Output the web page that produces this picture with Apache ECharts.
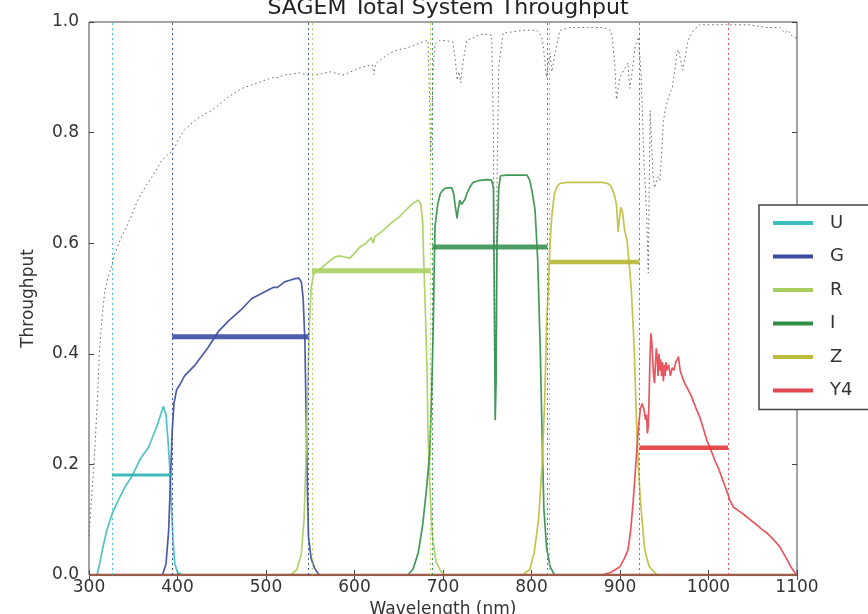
<!DOCTYPE html>
<html><head><meta charset="utf-8">
<script src="https://cdn.jsdelivr.net/npm/echarts@6/dist/echarts.min.js"></script>
<style>html,body{margin:0;padding:0;background:#fff}#c{width:868px;height:614px}</style>
</head><body><div id="c"></div>
<script>
// ---- data ----
const filterNames = ['U', 'G', 'R', 'I', 'Z', 'Y4'];
const xTickValues = [300, 400, 500, 600, 700, 800, 900, 1000, 1100];
const yTickValues = [0.0, 0.2, 0.4, 0.6, 0.8, 1.0];

const curveU = [[300,0],[309,0],[312,0.02],[315,0.045],[320,0.08],[326,0.11],[333,0.135],[341,0.16],[349,0.18],[358,0.21],[367,0.23],[372,0.25],[377,0.27],[381,0.29],[384,0.305],[387,0.29],[389,0.25],[391,0.2],[393,0.13],[395,0.06],[397,0.02],[400,0.005],[405,0],[1100,0]];

const curveG = [[300,0],[383,0],[387,0.02],[390,0.08],[392,0.17],[394,0.26],[396,0.31],[399,0.335],[403,0.345],[408,0.36],[414,0.37],[420,0.38],[427,0.395],[434,0.41],[440,0.425],[446,0.44],[452,0.45],[458,0.46],[465,0.47],[472,0.48],[478,0.49],[484,0.5],[490,0.505],[496,0.51],[502,0.515],[508,0.52],[513,0.52],[517,0.525],[521,0.53],[527,0.533],[533,0.536],[537,0.537],[540,0.53],[542,0.5],[544,0.42],[545,0.32],[546,0.23],[547,0.14],[548,0.07],[551,0.03],[555,0.012],[560,0],[1100,0]];

const curveR = [[300,0],[528,0],[535,0.01],[540,0.04],[543,0.1],[545,0.2],[547,0.33],[549,0.45],[551,0.52],[554,0.545],[558,0.55],[564,0.557],[572,0.568],[578,0.575],[583,0.577],[589,0.575],[595,0.573],[600,0.582],[606,0.593],[613,0.6],[619,0.61],[621,0.6],[623,0.612],[630,0.62],[637,0.63],[644,0.64],[651,0.648],[658,0.66],[666,0.672],[672,0.678],[675,0.67],[677,0.64],[678,0.58],[680,0.48],[682,0.37],[683,0.26],[685,0.16],[688,0.07],[692,0.025],[697,0.008],[702,0],[1100,0]];

const curveI = [[300,0],[660,0],[666,0.01],[672,0.04],[677,0.09],[681,0.15],[685,0.22],[687,0.32],[689,0.45],[690,0.55],[691,0.63],[694,0.67],[697,0.69],[701,0.698],[705,0.7],[710,0.7],[712,0.69],[714,0.665],[716,0.645],[717,0.66],[719,0.678],[721,0.67],[723,0.672],[725,0.68],[727,0.69],[731,0.703],[734,0.71],[740,0.713],[750,0.715],[755,0.714],[757,0.7],[758,0.5],[759,0.28],[760,0.35],[761,0.6],[763,0.7],[765,0.722],[772,0.723],[779,0.723],[787,0.723],[795,0.723],[798,0.714],[801,0.69],[804,0.66],[807,0.57],[810,0.4],[812,0.25],[814,0.12],[817,0.05],[821,0.015],[826,0],[1100,0]];

const curveZ = [[300,0],[790,0],[798,0.01],[803,0.04],[808,0.1],[812,0.2],[815,0.32],[817,0.45],[819,0.52],[821,0.6],[823,0.65],[826,0.69],[829,0.703],[832,0.708],[840,0.71],[850,0.71],[860,0.71],[870,0.71],[880,0.71],[886,0.708],[889,0.705],[892,0.695],[894,0.685],[896,0.67],[897,0.645],[898,0.62],[899,0.64],[901,0.665],[903,0.655],[905,0.625],[908,0.605],[911,0.55],[913,0.51],[916,0.41],[919,0.26],[921,0.19],[923,0.136],[926,0.08],[928,0.045],[933,0.015],[942,0],[1100,0]];

const curveY4 = [[300,0],[880,0],[890,0.005],[900,0.015],[905,0.03],[909,0.045],[912,0.08],[915,0.135],[917,0.18],[919,0.226],[921,0.27],[923,0.3],[925,0.31],[927,0.3],[929,0.28],[930,0.29],[931,0.256],[932,0.27],[933,0.33],[934,0.4],[935,0.437],[936,0.42],[937,0.39],[938,0.36],[939,0.347],[940,0.38],[941,0.41],[942,0.395],[943,0.36],[944,0.4],[945,0.37],[946,0.39],[947,0.36],[948,0.385],[949,0.35],[950,0.38],[951,0.36],[952,0.385],[953,0.37],[955,0.38],[957,0.36],[959,0.375],[961,0.37],[963,0.385],[965,0.39],[966,0.395],[968,0.37],[970,0.36],[973,0.347],[977,0.335],[981,0.322],[985,0.305],[990,0.286],[994,0.266],[998,0.244],[1003,0.225],[1007,0.208],[1012,0.19],[1016,0.172],[1020,0.155],[1024,0.136],[1028,0.123],[1035,0.115],[1041,0.108],[1047,0.1],[1055,0.09],[1060,0.083],[1066,0.076],[1073,0.065],[1081,0.05],[1088,0.03],[1093,0.015],[1098,0.003],[1100,0]];

const atmosphere = [[300,0.07],[303,0.14],[306,0.21],[309,0.3],[312,0.41],[315,0.47],[318,0.515],[321,0.535],[324,0.55],[329,0.58],[335,0.605],[341,0.625],[348,0.65],[355,0.678],[363,0.7],[371,0.72],[377,0.735],[382,0.75],[389,0.76],[393,0.765],[397,0.774],[402,0.79],[408,0.805],[415,0.815],[423,0.826],[431,0.834],[439,0.84],[448,0.852],[457,0.864],[465,0.872],[473,0.88],[482,0.885],[491,0.89],[499,0.895],[507,0.899],[514,0.9],[521,0.904],[530,0.906],[538,0.908],[545,0.905],[553,0.904],[562,0.906],[572,0.91],[580,0.907],[587,0.904],[596,0.91],[606,0.917],[615,0.921],[620,0.923],[622,0.905],[624,0.925],[630,0.932],[640,0.944],[650,0.95],[659,0.953],[668,0.958],[677,0.964],[683,0.967],[685,0.85],[686,0.755],[687,0.8],[689,0.92],[691,0.96],[697,0.967],[704,0.966],[711,0.964],[714,0.93],[716,0.895],[718,0.91],[720,0.89],[722,0.92],[725,0.95],[727,0.967],[735,0.972],[742,0.978],[750,0.977],[755,0.976],[757,0.8],[758,0.5],[759,0.38],[760,0.45],[761,0.7],[763,0.92],[768,0.98],[779,0.982],[790,0.985],[806,0.985],[811,0.975],[813,0.96],[815,0.93],[817,0.9],[819,0.925],[821,0.944],[823,0.91],[825,0.93],[828,0.955],[832,0.985],[843,0.99],[863,0.99],[881,0.99],[889,0.985],[891,0.973],[894,0.926],[896,0.86],[898,0.88],[900,0.9],[905,0.915],[909,0.926],[911,0.88],[913,0.9],[917,0.955],[921,0.973],[924,0.9],[927,0.75],[930,0.655],[931,0.6],[932,0.546],[933,0.7],[934,0.84],[936,0.77],[937,0.73],[939,0.7],[941,0.7],[943,0.72],[945,0.714],[947,0.76],[949,0.82],[951,0.84],[953,0.853],[956,0.87],[959,0.88],[962,0.913],[964,0.94],[966,0.95],[968,0.935],[971,0.913],[974,0.94],[977,0.967],[983,0.985],[990,0.995],[1009,0.995],[1028,0.995],[1047,0.995],[1066,0.99],[1081,0.99],[1086,0.98],[1090,0.985],[1094,0.975],[1096,0.973],[1100,0.97]];

const bandLow = [326, 394, 552, 688, 820, 922];
const bandHigh = [394, 548, 686, 818, 922, 1022];
const meanThroughput = [0.181, 0.431, 0.550, 0.593, 0.566, 0.230];
const baselineX = [300, 1100];

// ---- styling ----
const curves = [curveU, curveG, curveR, curveI, curveZ, curveY4];
const curveColors = ['#3dbdbd', '#3a4a9e', '#a6cf5c', '#2f8f46', '#bcbc3a', '#e5454f'];
const barColors = ['#2db0b2', '#3b4c9f', '#a9d060', '#3a9152', '#b6b634', '#e23838'];
const barWidths = [3, 5, 5, 5, 4.5, 4.5];
const FONT = 'DejaVu Sans';

const series = [];
series.push({
  name: 'atmosphere', type: 'line', data: atmosphere, showSymbol: false, silent: true,
  lineStyle: { color: '#666', width: 1, type: [1.5, 3] }, z: 1
});
filterNames.forEach((n, i) => {
  series.push({
    name: n, type: 'line', data: curves[i], showSymbol: false, silent: true,
    itemStyle: { color: curveColors[i] },
    lineStyle: { color: curveColors[i], width: 1.7, opacity: 0.9 }, z: 2
  });
  series.push({
    name: n + ' band', type: 'line', showSymbol: false, silent: true,
    data: [[bandLow[i], meanThroughput[i]], [bandHigh[i], meanThroughput[i]]],
    lineStyle: { color: barColors[i], width: barWidths[i], opacity: 0.9 }, z: 3,
    markLine: {
      symbol: 'none', silent: true, animation: false,
      label: { show: false },
      lineStyle: { color: curveColors[i], width: 1, type: [2, 3], opacity: 0.9 },
      data: [{ xAxis: bandLow[i] }, { xAxis: bandHigh[i] }]
    }
  });
});
series.push({
  name: 'baseline', type: 'line', showSymbol: false, silent: true,
  data: baselineX.map(x => [x, 0]),
  lineStyle: { color: '#9c5a48', width: 2.5 }, z: 4
});

const chart = echarts.init(document.getElementById('c'), null, { renderer: 'canvas' });
chart.setOption({
  animation: false,
  backgroundColor: '#fff',
  title: {
    text: 'SAGEM Total System Throughput', left: 443, top: -8, textAlign: 'center',
    textStyle: { fontFamily: FONT, fontSize: 22, fontWeight: 'normal', color: '#222' }
  },
  grid: { left: 89, top: 22, width: 708, height: 553, show: true, borderColor: '#444', borderWidth: 1,
          backgroundColor: 'transparent', containLabel: false, outerBoundsMode: 'none' },
  legend: {
    data: filterNames, orient: 'vertical', left: 759, top: 205,
    backgroundColor: '#fff', borderColor: '#444', borderWidth: 1.5, borderRadius: 0,
    padding: [9, 40, 10, 14], itemGap: 15.5, itemWidth: 40, itemHeight: 4, icon: 'rect',
    textStyle: { fontFamily: FONT, fontSize: 18, color: '#333', padding: [0, 0, 0, 12] },
    selectedMode: false, z: 10
  },
  xAxis: [{
    type: 'value', min: xTickValues[0], max: xTickValues[xTickValues.length - 1], interval: 100,
    name: 'Wavelength (nm)', nameLocation: 'middle', nameGap: 26,
    nameTextStyle: { fontFamily: FONT, fontSize: 17, color: '#333' },
    axisLine: { show: false }, splitLine: { show: false },
    axisTick: { show: true, inside: true, length: 5, lineStyle: { color: '#444' } },
    axisLabel: { fontFamily: FONT, fontSize: 17, color: '#333', margin: 4, formatter: v => String(v) }
  }, {
    type: 'value', position: 'top', min: 300, max: 1100, interval: 100,
    axisLine: { show: false }, splitLine: { show: false }, axisLabel: { show: false },
    axisTick: { show: true, inside: true, length: 5, lineStyle: { color: '#444' } }
  }],
  yAxis: [{
    type: 'value', min: yTickValues[0], max: yTickValues[yTickValues.length - 1], interval: 0.2,
    name: 'Throughput', nameLocation: 'middle', nameGap: 52, nameRotate: 90,
    nameTextStyle: { fontFamily: FONT, fontSize: 17, color: '#333' },
    axisLine: { show: false }, splitLine: { show: false },
    axisTick: { show: true, inside: true, length: 5, lineStyle: { color: '#444' } },
    axisLabel: { fontFamily: FONT, fontSize: 17, color: '#333', margin: 10, formatter: v => v.toFixed(1) }
  }, {
    type: 'value', position: 'right', min: 0, max: 1, interval: 0.2,
    axisLine: { show: false }, splitLine: { show: false }, axisLabel: { show: false },
    axisTick: { show: true, inside: true, length: 5, lineStyle: { color: '#444' } }
  }],
  series: series
});
</script>
</body></html>
